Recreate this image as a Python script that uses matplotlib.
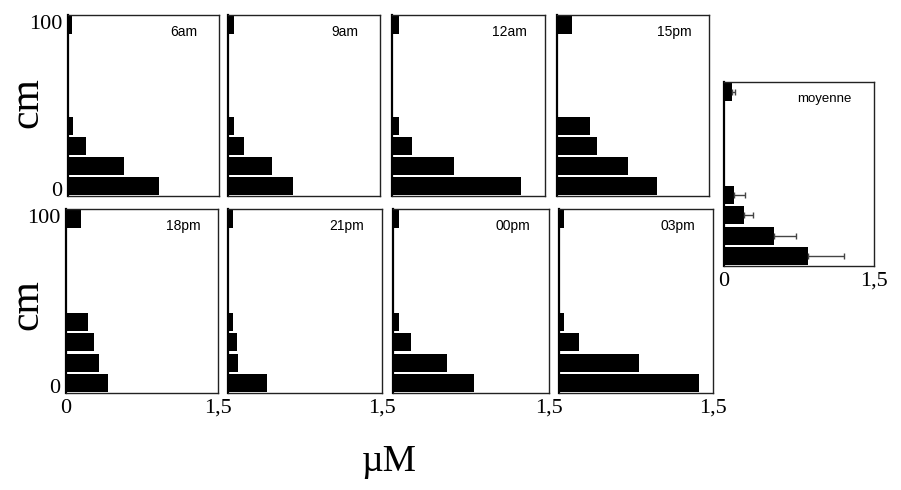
import matplotlib
matplotlib.use("Agg")
import matplotlib.pyplot as plt

# depth of each layer (cm) and concentration (uM) per sampling time
depth = [5.5, 16.5, 27.5, 38.5, 94.5]

times = ["6am", "9am", "12am", "15pm", "18pm", "21pm", "00pm", "03pm"]
conc = {
    "6am":  [0.90, 0.56, 0.18, 0.045, 0.04],
    "9am":  [0.64, 0.43, 0.16, 0.056, 0.056],
    "12am": [1.26, 0.61, 0.20, 0.07, 0.07],
    "15pm": [0.99, 0.70, 0.39, 0.33, 0.145],
    "18pm": [0.41, 0.33, 0.28, 0.22, 0.15],
    "21pm": [0.38, 0.094, 0.085, 0.045, 0.045],
    "00pm": [0.78, 0.52, 0.17, 0.055, 0.055],
    "03pm": [1.36, 0.78, 0.195, 0.045, 0.045],
}
mean_conc = [0.84, 0.50, 0.20, 0.10, 0.077]
mean_err = [0.36, 0.22, 0.09, 0.107, 0.033]

W, H = 901, 490
fig = plt.figure(figsize=(W / 100, H / 100), dpi=100)

# panel boxes in pixels: x0, x1, ytop, ybottom
boxes = [
    (68, 219, 15, 196), (228, 380, 15, 196), (392, 545, 15, 196), (557, 709, 15, 196),
    (66, 218, 209, 393), (228, 382, 209, 393), (393, 549, 209, 393), (559, 713, 209, 393),
]

serif = "Liberation Serif"
sans = "Liberation Sans"


def make_ax(x0, x1, y0, y1):
    ax = fig.add_axes([x0 / W, 1 - y1 / H, (x1 - x0) / W, (y1 - y0) / H])
    ax.set_xlim(0, 1.5)
    ax.set_ylim(0, 100)
    ax.tick_params(length=0, labelsize=16, pad=4)
    for s in ax.spines.values():
        s.set_linewidth(1.0)
        s.set_color("#222222")
    ax.spines["left"].set_linewidth(1.6)
    ax.spines["left"].set_color("black")
    return ax


for i, (t, b) in enumerate(zip(times, boxes)):
    ax = make_ax(*b)
    ax.barh(depth, conc[t], height=9.8, color="black")
    ax.text(0.77, 0.905, t, transform=ax.transAxes, ha="center", va="center",
            fontsize=10, family=sans)
    if i % 4 == 0:
        ax.set_yticks([0, 100])
        labs = ax.set_yticklabels(["0", "100"], family=serif, fontsize=16)
        labs[0].set_va("baseline")
        labs[1].set_va("top")
    else:
        ax.set_yticks([])
    if i >= 4:
        ax.set_xticks([0, 1.5])
        ax.set_xticklabels(["0" if i == 4 else "", "1,5"], family=serif, fontsize=16)
    else:
        ax.set_xticks([])

# mean panel with one-sided error bars
ax = make_ax(724, 874, 82, 266)
ax.barh(depth, mean_conc, height=9.8, color="black",
        xerr=[[0] * len(mean_err), mean_err],
        error_kw=dict(ecolor="#444444", elinewidth=1, capsize=2.5, capthick=1))
ax.text(0.67, 0.91, "moyenne", transform=ax.transAxes, ha="center", va="center",
        fontsize=9.5, family=sans)
ax.set_yticks([])
ax.set_xticks([0, 1.5])
ax.set_xticklabels(["0", "1,5"], family=serif, fontsize=16)

fig.text(27 / W, 1 - 103 / H, "cm", rotation=90, ha="center", va="center",
         family=serif, fontsize=30)
fig.text(27 / W, 1 - 305 / H, "cm", rotation=90, ha="center", va="center",
         family=serif, fontsize=30)
fig.text(389 / W, 1 - 462 / H, "µM", ha="center", va="center",
         family=serif, fontsize=27)

fig.savefig("out.png", dpi=100)
